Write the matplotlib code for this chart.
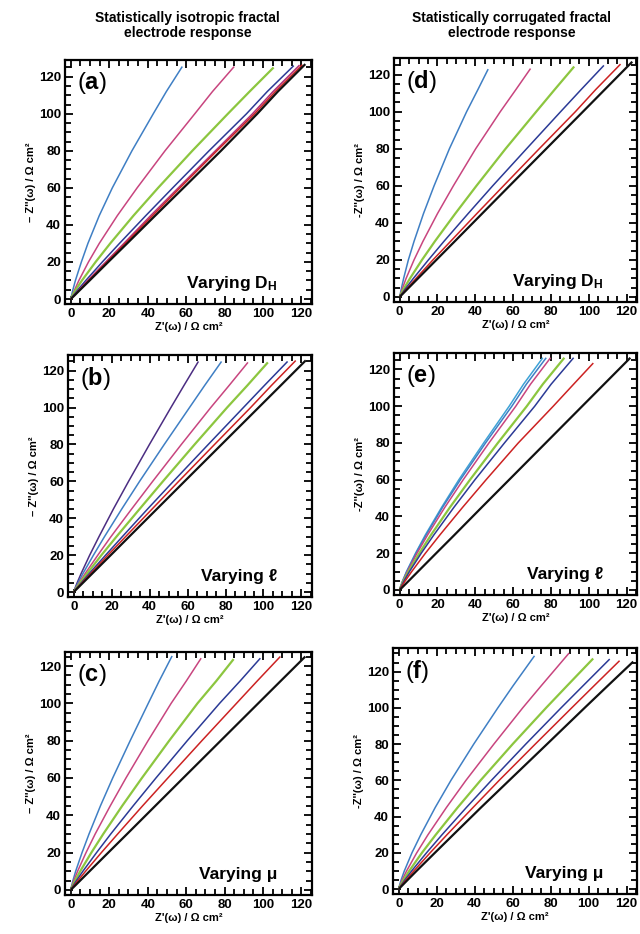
import matplotlib
matplotlib.use("Agg")
import matplotlib.pyplot as plt
from matplotlib.ticker import MultipleLocator

plt.rcParams['font.family'] = ['Liberation Sans', 'DejaVu Sans']
plt.rcParams['mathtext.fontset'] = 'custom'
plt.rcParams['mathtext.rm'] = 'Liberation Sans'
plt.rcParams['mathtext.bf'] = 'Liberation Sans:bold'
plt.rcParams['mathtext.it'] = 'Liberation Sans:italic'

y_levels = [0, 2, 5, 10, 20, 30, 45, 60, 80, 100, 112]

BLUE = '#3f7fc4'
PINK = '#c8457f'
GREEN = '#8cc63f'
NAVY = '#2b3a96'
RED = '#cc2222'
BLACK = '#111111'
PURPLE = '#4b2d82'
CYAN = '#3ea3d6'
MAG = '#b0307a'

# (a) isotropic, varying D_H
a_colors = [BLUE, PINK, GREEN, NAVY, MAG, RED, BLACK]
a_x = [
    [0, 0.4, 1.1, 2.4, 5.5, 8.9, 14.8, 21.6, 31.8, 42.9, 49.7, 58],
    [0, 0.8, 2.0, 4.2, 9.2, 14.8, 24.2, 34.5, 49.0, 64.5, 73.7, 85],
    [0, 0.9, 2.6, 5.8, 12.9, 20.5, 32.6, 45.4, 63.2, 81.7, 93.0, 105.5],
    [0, 1.4, 3.7, 7.8, 16.4, 25.3, 39.0, 53.0, 71.9, 91.4, 102.2, 116],
    [0, 1.8, 4.4, 8.8, 18.2, 27.6, 41.5, 55.9, 75.2, 94.5, 105.2, 119],
    [0, 1.8, 4.6, 9.3, 18.8, 28.3, 42.5, 56.8, 76.0, 95.6, 106.4, 120.5],
    [0, 2.0, 4.9, 9.8, 19.5, 29.3, 43.9, 58.6, 78.1, 97.0, 107.7, 122],
]
a_top = [125.5, 125.5, 125, 126, 126.3, 126.5, 126.8]

# (b) isotropic, varying l
b_colors = [PURPLE, BLUE, PINK, GREEN, NAVY, RED, BLACK]
b_x = [
    [0, 0.64, 1.79, 3.88, 8.41, 13.3, 20.9, 28.9, 39.9, 51.2, 58.1, 65.7],
    [0, 0.83, 2.26, 4.83, 10.4, 16.2, 25.3, 34.7, 47.7, 61.0, 69.0, 77.9],
    [0, 1.06, 2.84, 6.00, 12.7, 19.6, 30.5, 41.6, 56.7, 72.2, 81.9, 91.8],
    [0, 1.28, 3.38, 7.03, 14.6, 22.5, 34.7, 47.0, 63.7, 80.8, 91.5, 102.3],
    [0, 1.53, 3.97, 8.15, 16.8, 25.6, 38.9, 52.5, 70.9, 89.4, 100.5, 112.7],
    [0, 1.72, 4.39, 8.89, 18.0, 27.3, 41.3, 55.3, 74.2, 93.2, 104.2, 117],
    [0, 1.95, 4.87, 9.74, 19.5, 29.2, 43.8, 58.4, 77.9, 97.4, 109.1, 122.3],
]
b_top = [125, 125, 124.5, 124.5, 125, 125.5, 125.6]

# (c) isotropic, varying mu
c_colors = [BLUE, PINK, GREEN, NAVY, RED, BLACK]
c_x = [
    [0, 0.37, 1.11, 2.53, 5.85, 9.49, 15.4, 21.8, 30.9, 40.3, 46.0, 52.7],
    [0, 0.54, 1.57, 3.53, 7.93, 12.7, 20.5, 28.7, 40.2, 52.2, 60.1, 67.8],
    [0, 0.80, 2.23, 4.88, 10.7, 16.9, 26.7, 37.0, 51.2, 65.9, 75.7, 84.7],
    [0, 1.08, 2.96, 6.28, 13.4, 20.8, 32.4, 44.3, 60.6, 77.4, 88.1, 98.6],
    [0, 1.42, 3.71, 7.68, 15.9, 24.4, 37.3, 50.5, 68.2, 86.2, 97.0, 109],
    [0, 1.95, 4.88, 9.75, 19.5, 29.3, 43.9, 58.5, 78.0, 97.5, 109.2, 122],
]
c_top = [125.4, 124.2, 123.7, 124.2, 125.1, 125.1]

# (d) corrugated, varying D_H
d_colors = [BLUE, PINK, GREEN, NAVY, RED, BLACK]
d_x = [
    [0, 0.4, 1.0, 2.1, 4.6, 7.6, 12.6, 18.2, 26.3, 35.4, 41.4, 46.8],
    [0, 0.6, 1.6, 3.4, 7.6, 12.3, 20.0, 28.4, 40.2, 53.2, 61.5, 69.2],
    [0, 0.90, 2.51, 5.45, 11.8, 18.6, 29.4, 40.6, 56.0, 72.2, 82.0, 92.3],
    [0, 1.30, 3.46, 7.24, 15.2, 23.4, 36.2, 49.2, 67.1, 85.1, 96.0, 108],
    [0, 1.65, 4.24, 8.65, 17.6, 26.9, 40.8, 54.9, 73.8, 92.9, 103.7, 116.8],
    [0, 1.94, 4.84, 9.69, 19.4, 29.1, 43.6, 58.1, 77.5, 96.9, 108.5, 123],
]
d_top = [123, 123.3, 124.4, 125, 125.7, 127]

# (e) corrugated, varying l
e_colors = [CYAN, BLUE, PINK, GREEN, NAVY, RED, BLACK]
e_x = [
    [0, 0.53, 1.59, 3.63, 8.40, 13.6, 22.2, 31.3, 44.4, 57.9, 65.5, 75.7],
    [0, 0.54, 1.63, 3.72, 8.60, 14.0, 22.7, 32.1, 45.4, 59.3, 67.0, 77.5],
    [0, 0.61, 1.79, 4.05, 9.18, 14.8, 23.9, 33.6, 47.2, 61.4, 69.2, 79.8],
    [0, 0.72, 2.08, 4.65, 10.4, 16.6, 26.6, 37.2, 51.9, 67.2, 75.7, 87.1],
    [0, 0.83, 2.35, 5.16, 11.4, 18.1, 28.7, 39.8, 55.4, 71.4, 80.1, 92],
    [0, 1.09, 2.97, 6.35, 13.6, 21.3, 33.3, 45.7, 62.7, 81.2, 92.0, 102.4],
    [0, 1.93, 4.83, 9.65, 19.3, 29.0, 43.4, 57.9, 77.2, 96.5, 108.1, 122],
]
e_top = [126.4, 126.4, 126.4, 126.4, 126.4, 123.5, 126.4]

# (f) corrugated, varying mu
f_colors = [BLUE, PINK, GREEN, NAVY, RED, BLACK]
f_x = [
    [0, 0.39, 1.24, 2.94, 6.96, 11.6, 19.2, 27.5, 39.5, 52.2, 60.1, 71.5],
    [0, 0.60, 1.79, 4.13, 9.47, 15.4, 25.1, 35.4, 50.1, 65.3, 74.9, 89.7],
    [0, 0.86, 2.48, 5.50, 12.2, 19.5, 31.0, 43.1, 60.0, 77.6, 88.5, 102.4],
    [0, 1.16, 3.17, 6.79, 14.6, 22.8, 35.6, 48.8, 66.9, 85.5, 96.9, 111.1],
    [0, 1.44, 3.80, 7.93, 16.5, 25.4, 39.1, 52.9, 71.9, 91.1, 102.7, 116.3],
    [0, 1.82, 4.62, 9.35, 19.0, 28.7, 43.3, 58.2, 78.1, 97.9, 109.9, 123.5],
]
f_top = [128.7, 130.2, 127.2, 126.9, 126, 125.5]

panels = [
    ('a', [0.1016, 0.6745, 0.386, 0.2612], a_x, a_top, a_colors, r'Varying $\mathbf{D}_\mathbf{H}$', 129),
    ('b', [0.1063, 0.3608, 0.381, 0.2591], b_x, b_top, b_colors, 'Varying ℓ', 128.5),
    ('c', [0.1016, 0.0418, 0.386, 0.2601], c_x, c_top, c_colors, 'Varying μ', 127.5),
    ('d', [0.6156, 0.6767, 0.3797, 0.2612], d_x, d_top, d_colors, r'Varying $\mathbf{D}_\mathbf{H}$', 129),
    ('e', [0.6156, 0.3630, 0.3797, 0.2591], e_x, e_top, e_colors, 'Varying ℓ', 129),
    ('f', [0.6141, 0.0428, 0.3813, 0.2634], f_x, f_top, f_colors, 'Varying μ', 133),
]

fig = plt.figure(figsize=(6.4, 9.34), dpi=100)

for label, pos, xs_list, tops, colors, vary, ytop in panels:
    ax = fig.add_axes(pos)
    for xs, top, col in zip(xs_list, tops, colors):
        lw = 1.6 if col in (GREEN, BLACK) else 1.1
        ax.plot(xs, y_levels + [top], color=col, lw=lw, solid_capstyle='butt')
    ax.set_xlim(-3, 125.5)
    ax.set_ylim(-2.7, ytop)
    ax.xaxis.set_major_locator(MultipleLocator(20))
    ax.yaxis.set_major_locator(MultipleLocator(20))
    ax.xaxis.set_minor_locator(MultipleLocator(5))
    ax.yaxis.set_minor_locator(MultipleLocator(5))
    ax.tick_params(which='both', direction='in', top=True, right=True, width=1.3)
    ax.tick_params(which='major', length=6, labelsize=9.5, pad=3)
    ax.tick_params(which='minor', length=4)
    for t in ax.get_xticklabels() + ax.get_yticklabels():
        t.set_fontweight('bold')
    for s in ax.spines.values():
        s.set_linewidth(1.6)
    ax.set_xlabel("Z'(ω) / Ω cm²", fontsize=8, fontweight='bold', labelpad=1)
    ylab = "-Z''(ω) / Ω cm²" if label in 'def' else "– Z''(ω) / Ω cm²"
    ax.set_ylabel(ylab, fontsize=8, fontweight='bold', labelpad=2)
    ax.text(0.05, 0.905, r'($\mathbf{' + label + r'}$)', transform=ax.transAxes,
            fontsize=17, ha='left', va='center')
    ax.text(0.86, 0.085, vary, transform=ax.transAxes, fontsize=12.5,
            fontweight='bold', ha='right', va='center')

fig.text(0.293, 0.988, 'Statistically isotropic fractal\nelectrode response',
         ha='center', va='top', fontsize=10, fontweight='bold', linespacing=1.1)
fig.text(0.80, 0.988, 'Statistically corrugated fractal\nelectrode response',
         ha='center', va='top', fontsize=10, fontweight='bold', linespacing=1.1)

fig.savefig('out.png', dpi=100)
